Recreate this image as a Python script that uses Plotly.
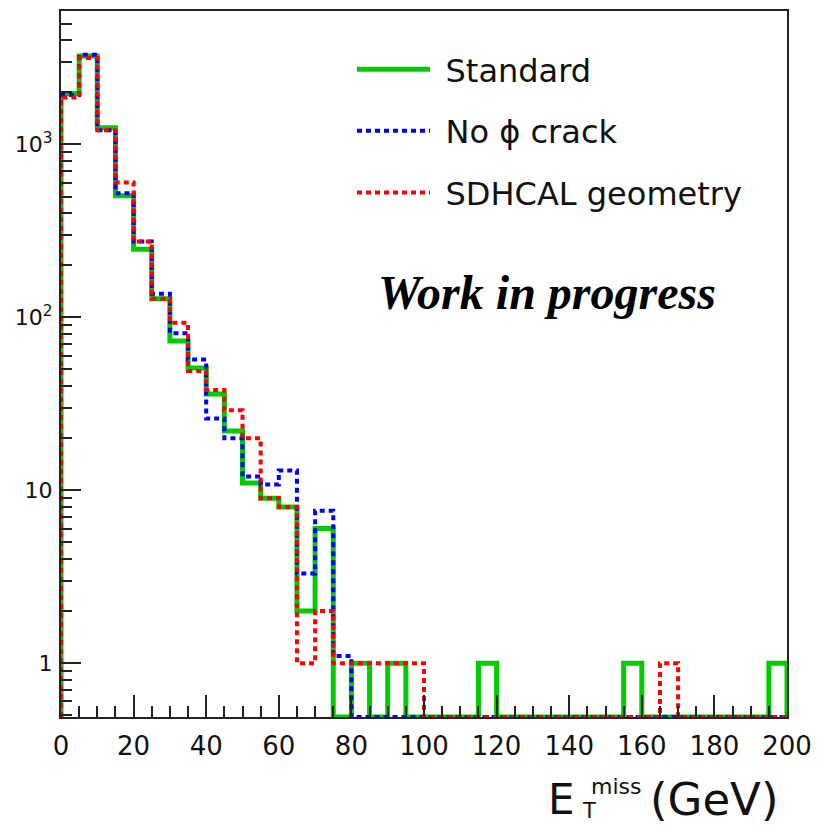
import plotly.graph_objects as go

# Missing transverse energy histograms, 5 GeV bins from 0 to 200 GeV
bin_edges = list(range(0, 205, 5))

standard = [1970, 3250, 1250, 505, 248, 128, 73, 51, 36, 22,
            11, 9, 8, 2, 6, 0, 1, 0, 1, 0,
            0, 0, 0, 1, 0, 0, 0, 0, 0, 0,
            0, 1, 0, 0, 0, 0, 0, 0, 0, 1]

no_phi_crack = [1930, 3300, 1210, 523, 275, 137, 81, 57, 26, 20,
                12, 10.8, 13, 3.3, 7.6, 1.1, 0, 0, 0, 0,
                0, 0, 0, 0, 0, 0, 0, 0, 0, 0,
                0, 0, 0, 0, 0, 0, 0, 0, 0, 0]

sdhcal = [1870, 3160, 1210, 603, 275, 128, 93, 49, 38, 29,
          20, 9, 8, 1, 2, 1, 1, 1, 1, 1,
          0, 0, 0, 0, 0, 0, 0, 0, 0, 0,
          0, 0, 0, 1, 0, 0, 0, 0, 0, 0]

series_names = ["Standard", "No \u03d5 crack", "SDHCAL geometry"]
series_colors = ["#00cc00", "#0000ff", "#ff0000"]

y_major_vals = [1, 10, 100, 1000]
y_major_text = ["1", "10", "10<sup>2</sup>", "10<sup>3</sup>"]

# log10 range of the y axis; empty bins sit on the lower frame edge
Y_LOG_MIN, Y_LOG_MAX = -0.3116, 3.772
y_floor = 10 ** Y_LOG_MIN

W, H = 834, 825
M_L, M_R, M_T, M_B = 61, 47, 9, 108
plot_w = W - M_L - M_R
plot_h = H - M_T - M_B


def px_x(px):
    return (px - M_L) / plot_w


def px_y(py):
    return (H - M_B - py) / plot_h


def step_outline(counts):
    xs = [bin_edges[0]] + bin_edges[:-1] + [bin_edges[-1]]
    ys = [y_floor] + [c if c > 0 else y_floor for c in counts] + [y_floor]
    return xs, ys


fig = go.Figure()
styles = [dict(width=5, dash="solid"),
          dict(width=4, dash="5px,4px"),
          dict(width=4, dash="5px,4px")]
for counts, name, color, st in zip([standard, no_phi_crack, sdhcal],
                                   series_names, series_colors, styles):
    xs, ys = step_outline(counts)
    fig.add_trace(go.Scatter(
        x=xs, y=ys, mode="lines", name="\u2004" + name, legendgroup=name,
        line=dict(color=color, width=st["width"], dash=st["dash"], shape="hv"),
        hoverinfo="skip",
    ))

axis_common = dict(
    showline=True, linecolor="#222", linewidth=2, mirror=True,
    ticks="inside", tickcolor="#222", tickwidth=1.5,
    showgrid=False, zeroline=False,
)

fig.update_xaxes(
    range=[0, 200], dtick=20, tick0=0, ticklen=22,
    tickfont=dict(family="DejaVu Sans", size=26, color="#111"),
    ticklabelstandoff=5,
    minor=dict(ticks="inside", dtick=5, tick0=0, ticklen=11,
               tickcolor="#222", tickwidth=1.5, showgrid=False),
    **axis_common,
)

y_minor = [m * 10 ** k for k in range(-1, 4) for m in range(2, 10)]
fig.update_yaxes(
    type="log", range=[Y_LOG_MIN, Y_LOG_MAX],
    tickmode="array", tickvals=y_major_vals, ticktext=y_major_text,
    ticklen=20,
    tickfont=dict(family="DejaVu Sans", size=22, color="#111"),
    ticklabelstandoff=2,
    minor=dict(ticks="inside", tickmode="array", tickvals=y_minor,
               ticklen=11, tickcolor="#222", tickwidth=1.5, showgrid=False),
    **axis_common,
)

# x-axis title E_T^miss (GeV) with stacked sub/superscript
title_font = "DejaVu Sans"
fig.add_annotation(text="E", x=px_x(546), y=px_y(800), xref="paper", yref="paper",
                   xanchor="left", yanchor="middle", showarrow=False,
                   font=dict(family=title_font, size=42, color="#111"))
fig.add_annotation(text="T", x=px_x(580), y=px_y(811), xref="paper", yref="paper",
                   xanchor="left", yanchor="middle", showarrow=False,
                   font=dict(family=title_font, size=21, color="#111"))
fig.add_annotation(text="miss", x=px_x(589), y=px_y(787), xref="paper", yref="paper",
                   xanchor="left", yanchor="middle", showarrow=False,
                   font=dict(family=title_font, size=22, color="#111"))
fig.add_annotation(text="(GeV)", x=px_x(648), y=px_y(800), xref="paper", yref="paper",
                   xanchor="left", yanchor="middle", showarrow=False,
                   font=dict(family=title_font, size=45, color="#111"))

fig.add_annotation(text="<b><i>Work in progress</i></b>", x=px_x(547), y=px_y(291),
                   xref="paper", yref="paper", xanchor="center", yanchor="middle",
                   showarrow=False,
                   font=dict(family="Liberation Serif", size=48, color="#000"))

fig.update_layout(
    width=W, height=H,
    margin=dict(l=M_L, r=M_R, t=M_T, b=M_B),
    paper_bgcolor="white", plot_bgcolor="white",
    showlegend=True,
    legend=dict(
        x=px_x(352), y=px_y(40), xanchor="left", yanchor="top",
        bgcolor="rgba(0,0,0,0)", borderwidth=0,
        font=dict(family="DejaVu Sans", size=32, color="#111"),
        itemwidth=73, tracegroupgap=17, traceorder="grouped",
    ),
)

fig.write_html("out.html")
